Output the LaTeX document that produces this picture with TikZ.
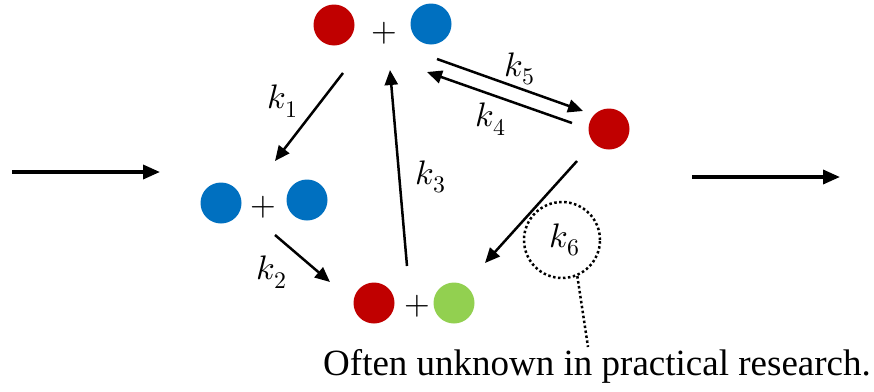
\documentclass[tikz,border=0pt]{standalone}
\usepackage{fontspec}
\usepackage{unicode-math}
\setmainfont{Liberation Serif}
\setmathfont{Latin Modern Math}
\usetikzlibrary{arrows.meta, positioning}
\definecolor{molred}{RGB}{192,0,0}
\definecolor{molblue}{RGB}{0,112,192}
\definecolor{molgreen}{RGB}{146,208,80}
\tikzset{
  mol/.style={circle, minimum size=41pt, inner sep=0pt},
  redmol/.style={mol, fill=molred},
  bluemol/.style={mol, fill=molblue},
  greenmol/.style={mol, fill=molgreen},
  plus/.style={font=\fontsize{33}{38}\selectfont, inner sep=0pt},
  rate/.style={font=\fontsize{34}{40}\selectfont, inner sep=0pt},
  arrow/.style={-{Triangle[length=15pt,width=13pt]}, line width=2.5pt, color=black},
  bigarrow/.style={-{Triangle[length=17pt,width=14pt]}, line width=3.5pt, color=black},
  dots/.style={line width=2.5pt, dash pattern=on 2.5pt off 2.5pt}
}
\begin{document}
\begin{tikzpicture}[x=1pt, y=-1pt]
  \useasboundingbox (0,0) rectangle (874,391);

  % Top complex: red + blue
  \node[redmol] (topred) at (334,25) {};
  \node[plus] (topplus) at (384,33) {$+$};
  \node[bluemol] (topblue) at (431,24) {};

  % Left complex: blue + blue
  \node[bluemol] (leftblue) at (221,203) {};
  \node[plus] (leftplus) at (263,207) {$+$};
  \node[bluemol] (rightblue) at (307,200) {};

  % Bottom complex: red + green
  \node[redmol] (botred) at (374,303) {};
  \node[plus] (botplus) at (417,306) {$+$};
  \node[greenmol] (botgreen) at (454,303) {};

  % Single red on the right
  \node[redmol] (single) at (609,129) {};

  % Inflow and outflow
  \coordinate (inA) at (12,172);
  \coordinate (inB) at (160,172);
  \coordinate (outA) at (692,177);
  \coordinate (outB) at (840,177);
  \draw[bigarrow] (inA) -- (inB);
  \draw[bigarrow] (outA) -- (outB);

  % Reaction paths
  \coordinate (k1s) at (343,73);
  \coordinate (k1e) at (275,161);
  \coordinate (k2s) at (275,235);
  \coordinate (k2e) at (330,282);
  \coordinate (k3s) at (407,266);
  \coordinate (k3e) at (390,70);
  \coordinate (k5s) at (437,59);
  \coordinate (k5e) at (583,111);
  \coordinate (k4s) at (572,123);
  \coordinate (k4e) at (427,72);
  \coordinate (k6s) at (577,161);
  \coordinate (k6e) at (485,263);
  \draw[arrow] (k1s) -- (k1e);
  \draw[arrow] (k2s) -- (k2e);
  \draw[arrow] (k3s) -- (k3e);
  \draw[arrow] (k5s) -- (k5e);
  \draw[arrow] (k4s) -- (k4e);
  \draw[arrow] (k6s) -- (k6e);

  \node[rate] (k1) at (283,101) {$k_1$};
  \node[rate] (k2) at (272,272) {$k_2$};
  \node[rate] (k3) at (431,177) {$k_3$};
  \node[rate] (k4) at (491,119) {$k_4$};
  \node[rate] (k5) at (520,69) {$k_5$};

  % Highlighted constant
  \node[circle, draw, dots, minimum size=76pt] (ring) at (562,240) {};
  \node[rate] (k6) at (565,240) {$k_6$};
  \node[font=\fontsize{37}{42}\selectfont, inner sep=0pt] (note) at (597,366) {Often unknown in practical research.};
  \coordinate (noteTop) at (588,347);
  \draw[dots] (ring.-67) -- (noteTop);
\end{tikzpicture}
\end{document}
